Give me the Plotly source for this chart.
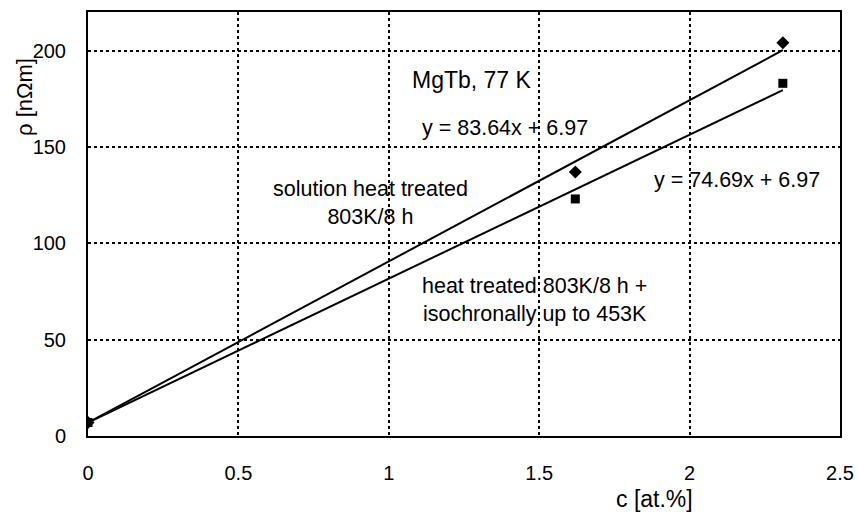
import plotly.graph_objects as go

# Data
c_vals = [0.0, 1.62, 2.31]
rho_solution = [7.0, 137.0, 204.0]   # diamonds
rho_iso = [7.0, 123.0, 183.0]        # squares
slope_solution, icpt_solution = 83.64, 6.97
slope_iso, icpt_iso = 74.69, 6.97
fit_x = [0.0, 2.31]
x_ticks = [0, 0.5, 1, 1.5, 2, 2.5]
y_ticks = [0, 50, 100, 150, 200]

FONT = "Liberation Sans, Arial, sans-serif"

L, R, T, B = 88, 18, 12, 76
PW, PH = 858 - L - R, 512 - T - B

fig = go.Figure()
fig.add_trace(go.Scatter(x=fit_x, y=[slope_solution * x + icpt_solution for x in fit_x],
                         mode="lines", line=dict(color="black", width=2), showlegend=False))
fig.add_trace(go.Scatter(x=fit_x, y=[slope_iso * x + icpt_iso for x in fit_x],
                         mode="lines", line=dict(color="black", width=2), showlegend=False))
fig.add_trace(go.Scatter(x=c_vals, y=rho_solution, mode="markers",
                         marker=dict(symbol="diamond", size=10, color="black"), showlegend=False))
fig.add_trace(go.Scatter(x=c_vals, y=rho_iso, mode="markers",
                         marker=dict(symbol="square", size=9, color="black"), showlegend=False))

anns = [
    dict(x=1.277, y=184.5, text="MgTb, 77 K", size=23),
    dict(x=1.386, y=159.6, text="y = 83.64x + 6.97", size=21.5),
    dict(x=2.158, y=132.6, text="y = 74.69x + 6.97", size=21.5),
    dict(x=0.9375, y=120.7, text="solution heat treated<br>803K/8 h", size=21.5),
    dict(x=1.486, y=70.5, text="heat treated 803K/8 h +<br>isochronally up to 453K", size=21.5),
]
for a in anns:
    fig.add_annotation(x=a["x"], y=a["y"], text=a["text"], showarrow=False,
                       xanchor="center", yanchor="middle",
                       font=dict(family=FONT, size=a["size"], color="black"), align="center")

fig.add_annotation(x=(654 - L) / PW, y=-(499 - (T + PH)) / PH, xref="paper", yref="paper",
                   xanchor="center", yanchor="middle",
                   text="c [at.%]", showarrow=False, font=dict(family=FONT, size=23, color="black"))
fig.add_annotation(x=(24 - L) / PW, y=((T + PH) - 97) / PH, xref="paper", yref="paper",
                   xanchor="center", yanchor="middle",
                   text="ρ [nΩm]", textangle=-90, showarrow=False,
                   font=dict(family=FONT, size=22, color="black"))

fig.update_xaxes(range=[0, 2.5], tickvals=x_ticks, ticktext=[str(v) for v in x_ticks],
                 showgrid=True, gridcolor="black", griddash="dot", gridwidth=1.5,
                 showline=True, linecolor="black", linewidth=2, mirror=True,
                 zeroline=False, ticks="", ticklabelstandoff=18,
                 tickfont=dict(family=FONT, size=20, color="black"))
fig.update_yaxes(range=[0, 220], tickvals=y_ticks,
                 showgrid=True, gridcolor="black", griddash="dot", gridwidth=1.5,
                 showline=True, linecolor="black", linewidth=2, mirror=True,
                 zeroline=False, ticks="", ticklabelstandoff=16,
                 tickfont=dict(family=FONT, size=20, color="black"))

fig.update_layout(width=858, height=512, margin=dict(l=L, r=R, t=T, b=B, autoexpand=False),
                  plot_bgcolor="white", paper_bgcolor="white",
                  font=dict(family=FONT, size=20, color="black"))

fig.write_html("out.html", config={"displayModeBar": False},
               post_script="document.body.style.margin='0';")
